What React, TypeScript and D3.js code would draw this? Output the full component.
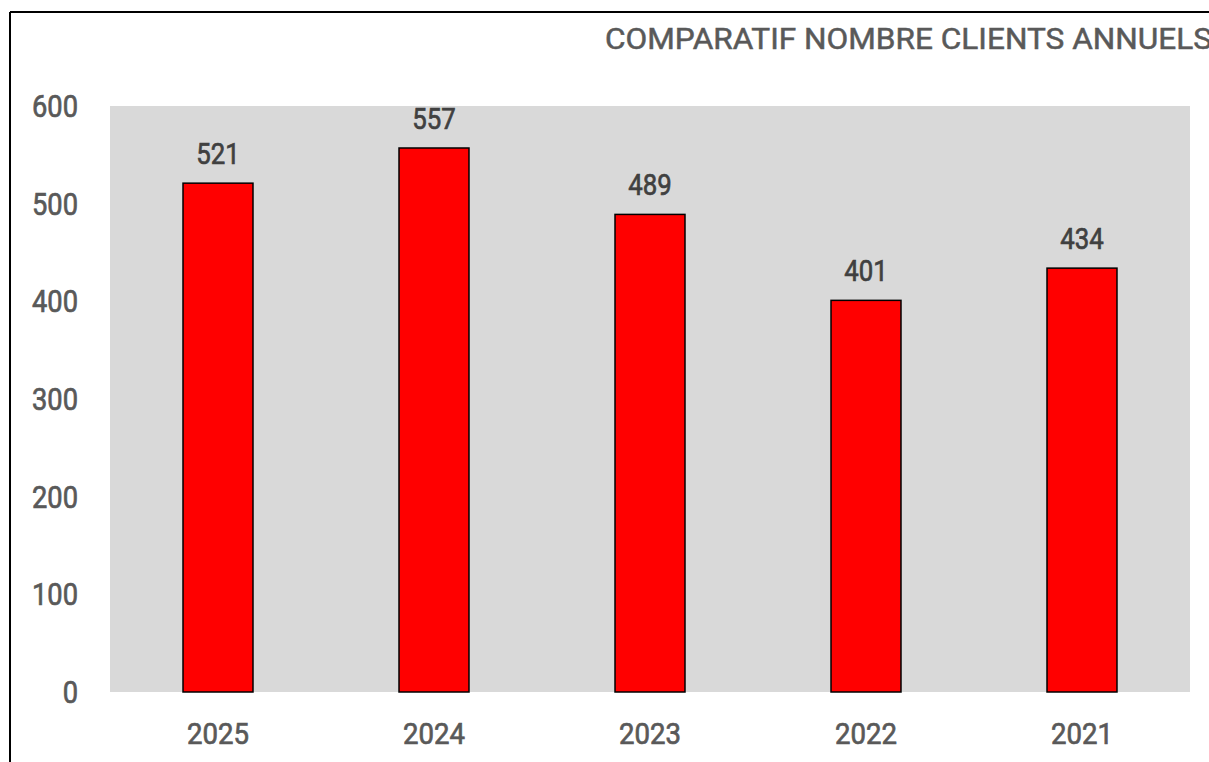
import React from "react"
import * as d3 from "d3"

const years = ["2025", "2024", "2023", "2022", "2021"]
const clients = [521, 557, 489, 401, 434]
const yTicks = [0, 100, 200, 300, 400, 500, 600]
const title = "COMPARATIF NOMBRE CLIENTS ANNUELS"

const W = 1209
const H = 762
const plot = { left: 110, right: 1190, top: 106, bottom: 692 }
const font = "Roboto, 'DejaVu Sans', sans-serif"

// narrow text helper: the original font is a condensed DIN-like face, a bit heavier than regular
const Label: React.FC<{ x: number; y: number; anchor: string; size: number; sx: number; fill: string; dy?: string; children: React.ReactNode }> =
  ({ x, y, anchor, size, sx, fill, dy, children }) => (
    <text transform={`translate(${x},${y}) scale(${sx},1)`} dy={dy} textAnchor={anchor}
      fontFamily={font} fontWeight={400} fontSize={size} fill={fill}
      stroke={fill} strokeWidth={0.7}>{children}</text>
  )

const App: React.FC = () => {
  const x = d3.scaleBand<string>()
    .domain(years)
    .range([plot.left, plot.right])
    .paddingInner(0.676)
    .paddingOuter(0.338)

  const y = d3.scaleLinear().domain([0, 600]).range([plot.bottom, plot.top])

  return (
    <svg width={W} height={H} style={{ position: "absolute", left: 0, top: 0, background: "#fff" }}>
      {/* frame */}
      <line x1={10} y1={12} x2={W} y2={12} stroke="#000" strokeWidth={2} />
      <line x1={10} y1={12} x2={10} y2={H} stroke="#000" strokeWidth={2} />

      {/* title */}
      <text x={605} y={49} fontFamily={font} fontWeight={400} fontSize={29} fill="#595959"
        stroke="#595959" strokeWidth={0.5}
        textLength={607} lengthAdjust="spacingAndGlyphs">{title}</text>

      {/* plot background */}
      <rect x={plot.left} y={plot.top} width={plot.right - plot.left} height={plot.bottom - plot.top} fill="#d9d9d9" />

      {/* y axis labels */}
      {yTicks.map(t => (
        <Label key={t} x={78} y={y(t)} dy="0.36em" anchor="end" size={31} sx={0.88} fill="#595959">{t}</Label>
      ))}

      {/* bars */}
      {years.map((yr, i) => {
        const cx = (x(yr) ?? 0) + x.bandwidth() / 2
        return (
          <g key={yr}>
            <rect x={x(yr)} y={y(clients[i])} width={x.bandwidth()} height={y(0) - y(clients[i])}
              fill="#ff0000" stroke="#000" strokeWidth={1.5} />
            <Label x={cx} y={y(clients[i]) - 19} anchor="middle" size={30} sx={0.86} fill="#404040">{clients[i]}</Label>
            <Label x={cx} y={744} anchor="middle" size={30} sx={0.92} fill="#595959">{yr}</Label>
          </g>
        )
      })}
    </svg>
  )
}

export default App
